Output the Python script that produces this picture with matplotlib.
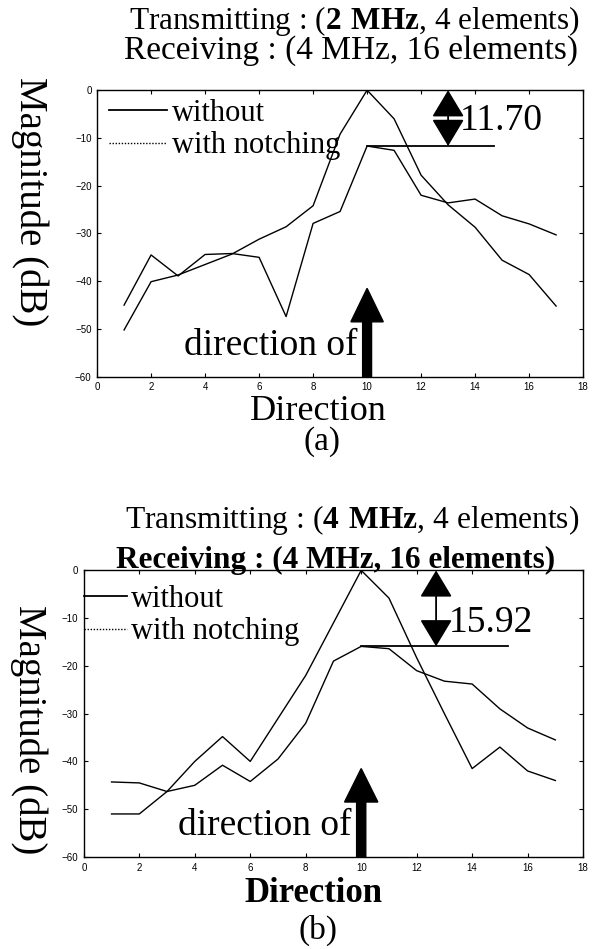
import matplotlib.pyplot as plt
from matplotlib.lines import Line2D

plt.rcParams['font.family'] = 'Liberation Serif'
plt.rcParams['mathtext.fontset'] = 'custom'
plt.rcParams['mathtext.rm'] = 'Liberation Serif'
plt.rcParams['mathtext.bf'] = 'Liberation Serif:bold'

# data
direction = list(range(1, 18))

# (a) transmitting 2 MHz
a_without = [-50.2, -40.1, -38.7, -36.5, -34.3, -31.2, -28.6, -24.2, -9.2, 0.0,
             -6.0, -17.8, -24.0, -28.7, -35.6, -38.6, -45.2]
a_notch = [-45.0, -34.5, -38.9, -34.4, -34.2, -35.0, -47.4, -27.9, -25.4, -11.7,
           -12.6, -22.0, -23.6, -22.8, -26.3, -28.0, -30.3]

# (b) transmitting 4 MHz
b_without = [-51.0, -51.0, -46.3, -40.0, -34.8, -40.0, -31.0, -22.0, -11.0, 0.0,
             -5.8, -18.3, -30.0, -41.5, -37.0, -42.0, -44.0]
b_notch = [-44.3, -44.5, -46.3, -45.0, -40.8, -44.2, -39.5, -32.0, -19.0, -15.92,
           -16.4, -21.0, -23.2, -23.8, -29.0, -33.0, -35.5]

gaps = ['11.70', '15.92']
legend_labels = ['without', 'with notching']
signal_dir = 10


def draw_panel(ax, without, notch, gap, arrow_x, line_end, gap_text_y,
               legend_anchor, handle_len):
    ax.plot(direction, without, color='black', lw=1.0)
    ax.plot(direction, notch, color='black', lw=1.0)
    ax.set_xlim(0, 18)
    ax.set_ylim(-60, 0)
    ax.set_xticks(range(0, 19, 2))
    ax.set_yticks(range(-60, 1, 10))
    ax.tick_params(direction='in', length=3, width=0.8, top=True, right=True,
                   labelsize=7, pad=4)
    for lab in ax.get_xticklabels() + ax.get_yticklabels():
        lab.set_family('Liberation Sans')
    for sp in ax.spines.values():
        sp.set_linewidth(1.0)

    # level of the notched peak and the gap arrow
    peak = max(notch)
    ax.plot([signal_dir, line_end], [peak, peak], color='black', lw=1.3)
    ax.annotate('', xy=(arrow_x, 0), xytext=(arrow_x, peak),
                arrowprops=dict(arrowstyle='<|-|>,head_length=0.5,head_width=0.3',
                                mutation_scale=34, color='black', lw=1.3,
                                shrinkA=0, shrinkB=0))
    ax.text(arrow_x + 0.45, gap_text_y, gap, fontsize=27, va='center', ha='left')

    # direction of the signal
    ax.arrow(signal_dir, -60, 0, 18.5, width=0.33, head_width=1.2, head_length=7,
             length_includes_head=True, color='black')
    ax.text(signal_dir - 0.35, -53.5, 'direction of', fontsize=27,
            ha='right', va='center')

    handles = [Line2D([], [], color='black', lw=1.3),
               Line2D([], [], color='black', lw=1.0, ls=(0, (1, 1.2)))]
    ax.legend(handles, legend_labels, loc='upper left', bbox_to_anchor=legend_anchor,
              frameon=False, fontsize=22, handlelength=handle_len,
              handletextpad=0.15, labelspacing=0.12, borderaxespad=0.0,
              borderpad=0.0)


fig = plt.figure(figsize=(6.03, 9.49), dpi=100)

ax1 = fig.add_axes([0.161, 0.603, 0.806, 0.302])
draw_panel(ax1, a_without, a_notch, gaps[0], 13.0, 14.7, -6.5, (0.025, 0.97), 1.9)
ax1.set_xlabel('Direction', fontsize=26)
ax1.xaxis.set_label_coords(0.455, -0.065, transform=ax1.transAxes)
ax1.xaxis.label.set_va('top')
fig.text(0.588, 0.978, r'Transmitting : ($\mathbf{2\ MHz}$, 4 elements)',
         fontsize=22.5, ha='center', va='center')
fig.text(0.582, 0.947, 'Receiving : (4 MHz, 16 elements)',
         fontsize=24, ha='center', va='center')
fig.text(0.05, 0.787, 'Magnitude (dB)', fontsize=28, rotation=270,
         ha='center', va='center')
fig.text(0.534, 0.535, '(a)', fontsize=24, ha='center', va='center')

ax2 = fig.add_axes([0.139, 0.097, 0.828, 0.302])
draw_panel(ax2, b_without, b_notch, gaps[1], 12.7, 15.3, -11.0, (0.0, 0.95), 1.4)
ax2.set_xlabel('Direction', fontsize=25, fontweight='bold')
ax2.xaxis.set_label_coords(0.46, -0.07, transform=ax2.transAxes)
ax2.xaxis.label.set_va('top')
fig.text(0.584, 0.452, r'Transmitting : ($\mathbf{4\ MHz}$, 4 elements)',
         fontsize=22.7, ha='center', va='center')
fig.text(0.557, 0.4015, 'Receiving : (4 MHz, 16 elements)',
         fontsize=22.5, fontweight='bold', ha='center', va='baseline')
fig.text(0.047, 0.231, 'Magnitude (dB)', fontsize=28, rotation=270,
         ha='center', va='center')
fig.text(0.527, 0.02, '(b)', fontsize=24, ha='center', va='center')

fig.savefig('out.png', dpi=100)
